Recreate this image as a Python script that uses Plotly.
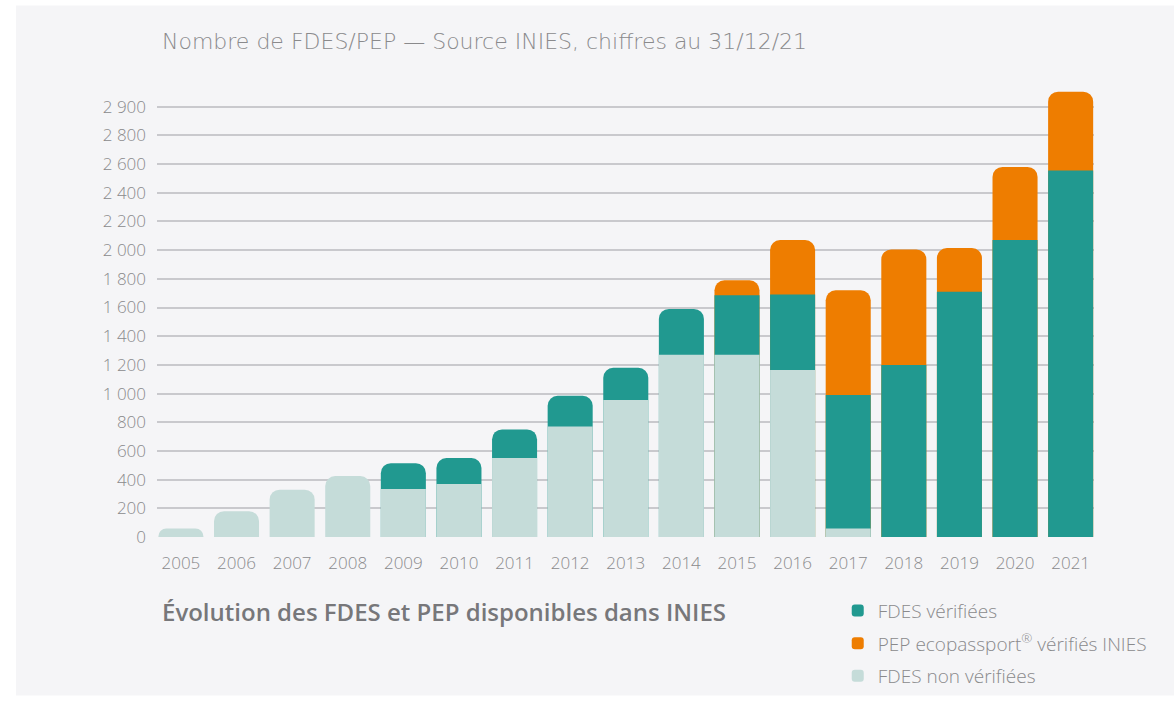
import plotly.graph_objects as go

years = [str(y) for y in range(2005, 2022)]
fdes_non_verifiees = [60, 180, 330, 425, 335, 370, 550, 770, 955, 1270, 1270, 1165, 60, 0, 0, 0, 0]
fdes_verifiees = [0, 0, 0, 0, 180, 180, 200, 215, 225, 320, 415, 525, 930, 1200, 1710, 2070, 2555]
pep_verifies = [0, 0, 0, 0, 0, 0, 0, 0, 0, 0, 105, 380, 730, 805, 305, 510, 550]
y_tickvals = [0, 200, 400, 600, 800, 1000, 1200, 1400, 1600, 1800, 2000, 2200, 2400, 2600, 2800, 3000]
y_ticktext = ["0", "200", "400", "600", "800", "1 000", "1 200", "1 400", "1 600", "1 800",
              "2 000", "2 200", "2 400", "2 600", "2 800", "2 900"]

C_TEAL = "#219990"
C_ORANGE = "#EE7D00"
C_LIGHT = "#C5DCD9"
C_TEXT = "#8A8A8C"
C_BG = "#F5F5F7"
FONT = "'Open Sans', Lato, sans-serif"
FONT_WIDE = "'DejaVu Sans', 'Open Sans', sans-serif"

# cumulative tops so each segment gets its own rounded top (overlay drawing, back to front)
cum_light = [a if a > 0 else None for a in fdes_non_verifiees]
cum_teal = [a + b if b > 0 else None for a, b in zip(fdes_non_verifiees, fdes_verifiees)]
cum_orange = [a + b + c if c > 0 else None for a, b, c in zip(fdes_non_verifiees, fdes_verifiees, pep_verifies)]

fig = go.Figure()
fig.add_trace(go.Bar(x=years, y=cum_orange, name="PEP ecopassport<sup>®</sup> vérifiés INIES",
                     marker=dict(color=C_ORANGE, line=dict(width=0), cornerradius=10), legendrank=2,
                     customdata=pep_verifies,
                     hovertemplate="%{x}<br>PEP vérifiés : %{customdata}<extra></extra>"))
fig.add_trace(go.Bar(x=years, y=cum_teal, name="FDES vérifiées",
                     marker=dict(color=C_TEAL, line=dict(width=0), cornerradius=10), legendrank=1,
                     customdata=fdes_verifiees,
                     hovertemplate="%{x}<br>FDES vérifiées : %{customdata}<extra></extra>"))
fig.add_trace(go.Bar(x=years, y=cum_light, name="FDES non vérifiées",
                     marker=dict(color=C_LIGHT, line=dict(width=0), cornerradius=10), legendrank=3,
                     customdata=fdes_non_verifiees,
                     hovertemplate="%{x}<br>FDES non vérifiées : %{customdata}<extra></extra>"))

fig.update_layout(
    width=1174, height=701,
    barmode="overlay", bargap=0.19,
    paper_bgcolor=C_BG, plot_bgcolor=C_BG,
    margin=dict(l=157, r=80, t=78, b=164, autoexpand=False),
    font=dict(family=FONT, color=C_TEXT),
    showlegend=True,
    legend=dict(x=0.7265, y=-0.3455, xanchor="left", yanchor="bottom",
                font=dict(size=19, color=C_TEXT, family=FONT, weight=300),
                bgcolor="rgba(0,0,0,0)", tracegroupgap=5,
                traceorder="grouped", itemwidth=30),
    xaxis=dict(type="category", range=[-0.43, 16.42], showgrid=False, zeroline=False,
               showline=False, ticks="", ticklabelstandoff=14, tickangle=0,
               tickfont=dict(size=17, color=C_TEXT, family=FONT, weight=300)),
    yaxis=dict(range=[0, 3200], tickvals=y_tickvals, ticktext=y_ticktext,
               showgrid=True, gridcolor="#C9C9CD", gridwidth=1.5, zeroline=False,
               showline=False, ticks="", ticklabelstandoff=10,
               tickfont=dict(size=17, color=C_TEXT, family=FONT, weight=300)),
    annotations=[
        dict(text="Nombre de FDES/PEP — Source INIES, chiffres au 31/12/21",
             xref="paper", yref="paper", x=0.003, y=1.079, xanchor="left", yanchor="middle",
             showarrow=False, font=dict(size=22, color=C_TEXT, family=FONT_WIDE, weight=200)),
        dict(text="Évolution des FDES et PEP disponibles dans INIES",
             xref="paper", yref="paper", x=0.003, y=-0.1625, xanchor="left", yanchor="middle",
             showarrow=False, font=dict(size=24, color="#77777A", family=FONT, weight=600)),
    ],
    shapes=[
        dict(type="rect", xref="paper", yref="paper", x0=-0.2, x1=-0.1505, y0=-0.4, y1=1.2,
             fillcolor="white", line=dict(width=0), layer="below"),
        dict(type="rect", xref="paper", yref="paper", x0=-0.2, x1=1.2, y0=1.158, y1=1.2,
             fillcolor="white", line=dict(width=0), layer="below"),
        dict(type="rect", xref="paper", yref="paper", x0=-0.2, x1=1.2, y0=-0.4, y1=-0.3455,
             fillcolor="white", line=dict(width=0), layer="below"),
    ],
)
for i, tr in enumerate(fig.data):
    tr.legendgroup = f"g{i}"

fig.write_html("out.html", config={"displayModeBar": False},
               post_script="document.body.style.margin='0px';")
